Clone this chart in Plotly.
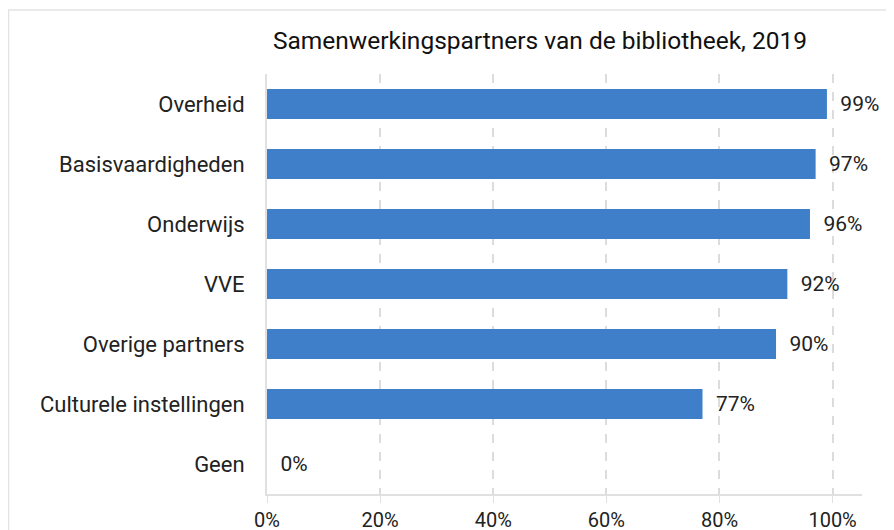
import plotly.graph_objects as go

categories = ["Overheid", "Basisvaardigheden", "Onderwijs", "VVE", "Overige partners",
              "Culturele instellingen", "Geen"]
values = [99, 97, 96, 92, 90, 77, 0]
labels = ["99%", "97%", "96%", "92%", "90%", "77%", "0%"]
x_ticks = [0, 20, 40, 60, 80, 100]
x_ticklabels = ["0%", "20%", "40%", "60%", "80%", "100%"]
title = "Samenwerkingspartners van de bibliotheek, 2019"

# page body has an 8px margin; figure coordinates are screen - 8
OFF = 8
W, H = 894, 530
L = 267 - OFF
T = 74 - OFF
B = H - (494 - OFF)
R = W - (862 - OFF)
pw, ph = W - L - R, H - T - B

fig = go.Figure(go.Bar(
    y=categories, x=values, orientation="h",
    marker=dict(color="#3F7EC8", line=dict(width=0)),
    text=["  " + t for t in labels], textposition="outside", cliponaxis=False,
    textfont=dict(family="Roboto", size=21, color="#222222"),
    hoverinfo="skip",
))

fig.update_layout(
    width=W, height=H,
    margin=dict(l=L, r=R, t=T, b=B, pad=0, autoexpand=False),
    paper_bgcolor="white", plot_bgcolor="white",
    bargap=0.5, showlegend=False,
    font=dict(family="Roboto", size=21, color="#222222"),
    title=dict(text=title, x=(540 - OFF - L) / pw, xref="paper", xanchor="center",
               y=1 - (40 - OFF) / H, yref="container", yanchor="middle",
               font=dict(family="Roboto", size=24.5, color="#111111")),
    xaxis=dict(range=[0, 105.2], tickvals=x_ticks, ticktext=x_ticklabels,
               automargin=False,
               showgrid=True, gridcolor="#dcdcdc", griddash="dash", gridwidth=1.5,
               zeroline=False, showline=True, linecolor="#e0e0e0", linewidth=2,
               ticks="outside", ticklen=7, tickcolor="#e0e0e0", ticklabelstandoff=0,
               tickfont=dict(size=20, color="#222222")),
    yaxis=dict(categoryorder="array", categoryarray=categories[::-1],
               automargin=False,
               showline=True, linecolor="#e0e0e0", linewidth=2,
               showgrid=False, ticks="", ticklabelstandoff=16,
               tickfont=dict(size=22, color="#222222")),
)

fig.add_shape(type="rect", xref="paper", yref="paper",
              x0=(0.5 - L) / pw, x1=1.2, y0=-0.3, y1=(H - B - (10 - OFF)) / ph,
              line=dict(color="#e3e3e3", width=1.5), layer="below")

fig.write_html("out.html")
